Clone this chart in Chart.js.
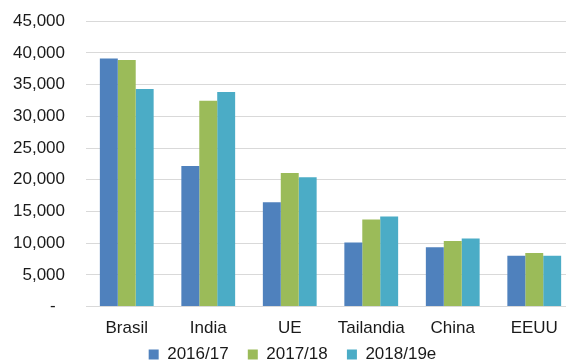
<!DOCTYPE html>
<html>
<head>
<meta charset="utf-8">
<script src="https://cdn.jsdelivr.net/npm/chart.js@4/dist/chart.umd.min.js"></script>
<style>
html,body{margin:0;padding:0;background:#fff;overflow:hidden;width:566px;height:363px;}
#wrap{position:relative;width:578px;height:383px;margin-top:-10px;}
</style>
</head>
<body>
<div id="wrap"><canvas id="c"></canvas></div>
<script>
const categories = ["Brasil", "India", "UE", "Tailandia", "China", "EEUU"];
const seriesNames = ["2016/17", "2017/18", "2018/19e"];
const s2016 = [39100, 22150, 16450, 10100, 9350, 8000];
const s2017 = [38900, 32450, 21050, 13750, 10350, 8450];
const s2018 = [34300, 33850, 20400, 14200, 10750, 8000];
const yTicks = [0, 5000, 10000, 15000, 20000, 25000, 30000, 35000, 40000, 45000];
const colors = ["#4F81BD", "#9BBB59", "#4BACC6"];

const font = {family: "'Liberation Sans', Arial, sans-serif", size: 17};
const mk = (i, data) => ({
  label: seriesNames[i], data, backgroundColor: colors[i],
  borderWidth: 0, categoryPercentage: 0.66, barPercentage: 1.0
});

new Chart(document.getElementById('c'), {
  type: 'bar',
  data: {labels: categories, datasets: [mk(0, s2016), mk(1, s2017), mk(2, s2018)]},
  options: {
    responsive: true, maintainAspectRatio: false, animation: false,
    layout: {padding: {top: 0, right: 3, left: 10, bottom: 0}},
    plugins: {
      legend: {
        position: 'bottom',
        labels: {
          font, color: '#1a1a1a', boxWidth: 10, boxHeight: 10, padding: 5,
          generateLabels: chart => {
            const items = Chart.defaults.plugins.legend.labels.generateLabels(chart);
            items.forEach((it, i) => { if (i < items.length - 1) it.text = it.text + '   '; });
            return items;
          }
        }
      },
      tooltip: {enabled: false}
    },
    scales: {
      x: {
        grid: {display: false, drawTicks: false},
        border: {display: true, color: '#d9d9d9', width: 1},
        ticks: {font, color: '#1a1a1a', padding: 12, maxRotation: 0},
        afterFit: s => { s.height -= 10; }
      },
      y: {
        min: 0, max: 45000,
        afterBuildTicks: s => { s.ticks = yTicks.map(v => ({value: v})); },
        afterFit: s => { s.width = 76; },
        grid: {color: '#d9d9d9', lineWidth: 1, drawTicks: false},
        border: {display: false},
        ticks: {
          font, color: '#1a1a1a', padding: 21,
          callback: v => v === 0 ? '-  ' : v.toLocaleString('en-US')
        }
      }
    }
  }
});
</script>
</body>
</html>
